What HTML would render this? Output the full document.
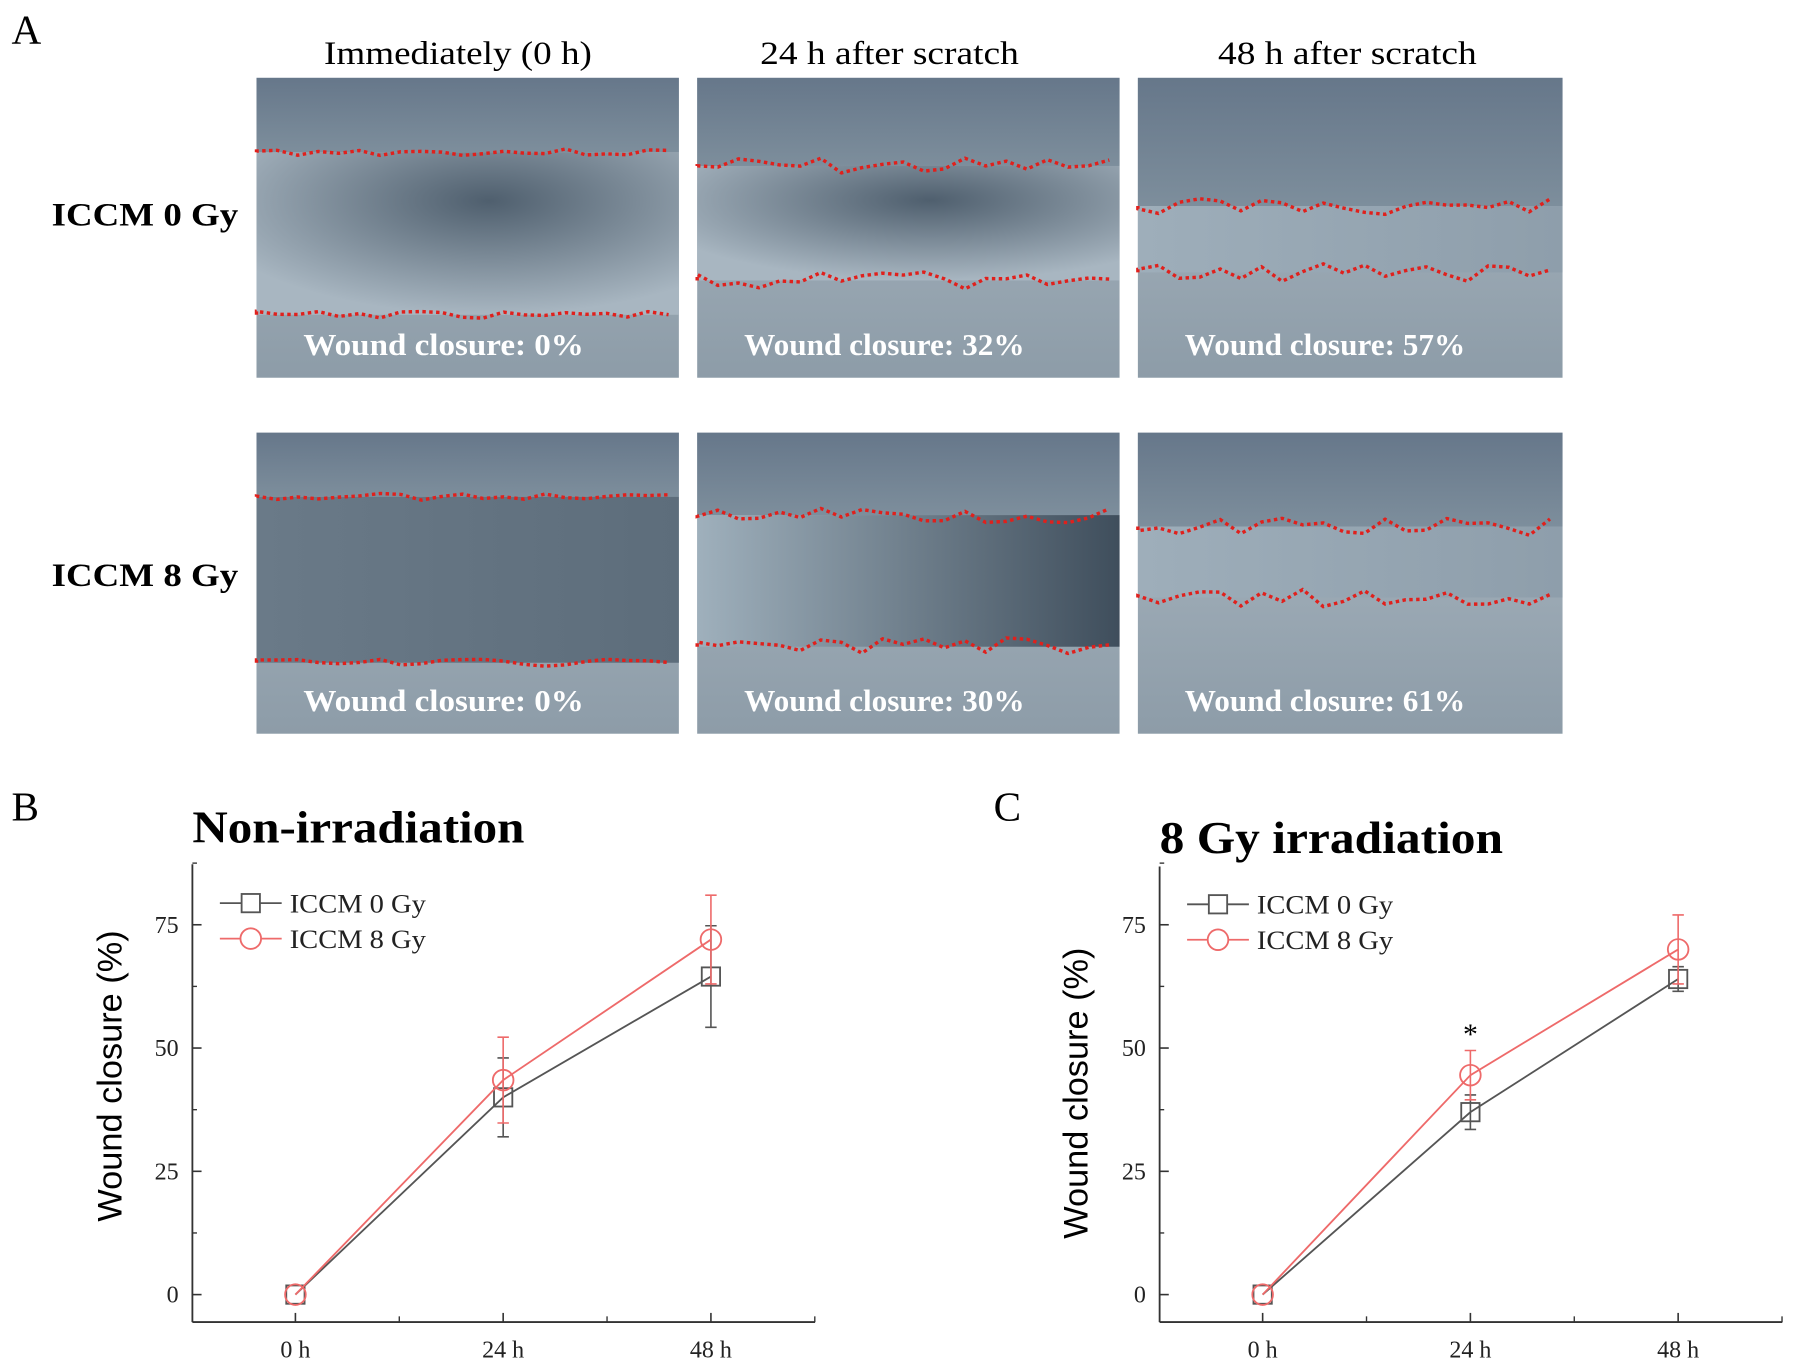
<!DOCTYPE html>
<html><head><meta charset="utf-8">
<style>
html,body{margin:0;padding:0;background:#fff;}
svg{display:block;font-family:"Liberation Serif",serif;}
</style></head>
<body>
<svg id="fig" width="1795" height="1369" viewBox="0 0 1568 1196" xmlns="http://www.w3.org/2000/svg">
<defs>
<linearGradient id="cellTop" x1="0" y1="0" x2="0" y2="1">
<stop offset="0" stop-color="#66778a"/><stop offset="1" stop-color="#7d8e9c"/>
</linearGradient>
<linearGradient id="cellBot" x1="0" y1="0" x2="0" y2="1">
<stop offset="0" stop-color="#aab7c1"/><stop offset="1" stop-color="#8d9ca8"/>
</linearGradient>
<radialGradient id="woundDark" cx="0.55" cy="0.3" r="0.7">
<stop offset="0" stop-color="#4f5f6e"/><stop offset="1" stop-color="#a8b6c1"/>
</radialGradient>
<linearGradient id="woundFlat" x1="0" y1="0" x2="1" y2="0">
<stop offset="0" stop-color="#6a7a88"/><stop offset="1" stop-color="#5d6d7b"/>
</linearGradient>
<linearGradient id="woundMid" x1="0" y1="0" x2="1" y2="0">
<stop offset="0" stop-color="#9fb0bc"/><stop offset="1" stop-color="#3f4e5c"/>
</linearGradient>
<linearGradient id="woundLight" x1="0" y1="0" x2="1" y2="0">
<stop offset="0" stop-color="#9eaeba"/><stop offset="1" stop-color="#8e9eab"/>
</linearGradient>
</defs>

<text x="10" y="38" font-size="36">A</text>
<text x="283" y="56" font-size="29" textLength="234" lengthAdjust="spacingAndGlyphs">Immediately (0 h)</text>
<text x="664" y="56" font-size="29" textLength="226" lengthAdjust="spacingAndGlyphs">24 h after scratch</text>
<text x="1064" y="56" font-size="29" textLength="226" lengthAdjust="spacingAndGlyphs">48 h after scratch</text>
<text x="45" y="197" font-size="29" font-weight="bold" textLength="163" lengthAdjust="spacingAndGlyphs">ICCM 0 Gy</text>
<text x="45" y="512" font-size="29" font-weight="bold" textLength="163" lengthAdjust="spacingAndGlyphs">ICCM 8 Gy</text>
<g id="photos"></g>

<g id="chartB"></g>
<g id="chartC"></g>
</svg>

<script>
// ---- chart data ----
const categories = ["0 h", "24 h", "48 h"];
const yTicks = [0, 25, 50, 75];
const seriesNames = ["ICCM 0 Gy", "ICCM 8 Gy"];
const nonIrr0Gy = [0, 40, 64.5];
const nonIrr0GyErr = [0, 8, 10.3];
const nonIrr8Gy = [0, 43.5, 72];
const nonIrr8GyErr = [0, 8.7, 9];
const irr0Gy = [0, 37, 64];
const irr0GyErr = [0, 3.5, 2.5];
const irr8Gy = [0, 44.5, 70];
const irr8GyErr = [0, 5, 7];
const wound0Gy = ["0%", "32%", "57%"];
const wound8Gy = ["0%", "30%", "61%"];

const NS = "http://www.w3.org/2000/svg";
function mk(tag, attrs, parent) {
  const e = document.createElementNS(NS, tag);
  for (const k in attrs) e.setAttribute(k, attrs[k]);
  parent.appendChild(e);
  return e;
}

// ---- photo panels ----
const photos = document.getElementById('photos');
const cols = [[224, 369], [609, 369], [994, 371]];
const rows = [[68, 262], [378, 263]];
const woundFills = [["woundDark", "woundDark", "woundLight"], ["woundFlat", "woundMid", "woundLight"]];
const edges = [[[133, 275], [145, 245], [180, 238]], [[434, 579], [450, 565], [460, 522]]];
const seeds = [3, 7, 11, 5, 9, 13];
function jag(x0, w, y, amp, seed) {
  let d = "M" + x0 + " " + y;
  let s = seed;
  for (let x = x0; x <= x0 + w; x += 18) {
    s = (s * 9301 + 49297) % 233280;
    d += " L" + x + " " + (y + (s / 233280 - 0.5) * amp);
  }
  return d;
}
rows.forEach((r, ri) => {
  cols.forEach((c, ci) => {
    const g = mk('g', {}, photos);
    
    
    const [x, w] = c, [y, h] = r;
    const [e1, e2] = edges[ri][ci];
    mk('rect', { x: x, y: y, width: w, height: h, fill: 'url(#cellBot)' }, g);
    mk('rect', { x: x, y: y, width: w, height: e1 - y, fill: 'url(#cellTop)' }, g);
    mk('rect', { x: x, y: e1, width: w, height: e2 - e1, fill: 'url(#' + woundFills[ri][ci] + ')' }, g);
    const amp = ci === 0 ? 6 : 16;
    const sd = seeds[ri * 3 + ci];
    mk('path', { d: jag(x, w, e1, amp, sd), fill: 'none', stroke: '#e0201c', 'stroke-width': 3, 'stroke-dasharray': '3 3' }, g);
    mk('path', { d: jag(x, w, e2, amp, sd + 17), fill: 'none', stroke: '#e0201c', 'stroke-width': 3, 'stroke-dasharray': '3 3' }, g);
    const t = mk('text', { x: x + 41, y: y + h - 20, 'font-size': 27, 'font-weight': 'bold', fill: '#ffffff', textLength: 245, lengthAdjust: 'spacingAndGlyphs' }, g);
    t.textContent = 'Wound closure: ' + (ri === 0 ? wound0Gy[ci] : wound8Gy[ci]);
    
    
  });
});

// ---- line charts ----
function drawChart(gid, opt) {
  const g = document.getElementById(gid);
  const x0 = opt.axisX, xEnd = opt.axisEnd, yBase = 1155, yTop = opt.yTop;
  const xPos = opt.catX;
  const yScale = v => 1131 - v * (107.7 / 25);
  const xScale = i => xPos[0] + i * (xPos[1] - xPos[0]);
  const lbl = mk('text', { x: opt.letterX, y: 717, 'font-size': 36 }, g);
  lbl.textContent = opt.letter;
  
  
  const title = mk('text', { x: opt.titleX, y: opt.titleY, 'font-size': 40, 'font-weight': 'bold', textLength: opt.titleLen, lengthAdjust: 'spacingAndGlyphs' }, g);
  title.textContent = opt.title;
  
  
  // axes
  const ya = mk('line', { x1: x0, y1: yTop, x2: x0, y2: yBase, stroke: '#333', 'stroke-width': 1.6 }, g);
  
  
  const xa = mk('line', { x1: x0, y1: yBase, x2: xEnd, y2: yBase, stroke: '#333', 'stroke-width': 1.6 }, g);
  
  
  yTicks.forEach(v => {
    const y = yScale(v);
    mk('line', { x1: x0, y1: y, x2: x0 + 8, y2: y, stroke: '#333', 'stroke-width': 1.4 }, g);
    mk('line', { x1: x0, y1: yScale(v + 12.5), x2: x0 + 4, y2: yScale(v + 12.5), stroke: '#333', 'stroke-width': 1.2 }, g);
    const t = mk('text', { x: x0 - 12, y: y + 7, 'font-size': 21, 'text-anchor': 'end', fill: '#222' }, g);
    t.textContent = v;
    
    
  });
  categories.forEach((c, i) => {
    const x = xScale(i);
    mk('line', { x1: x, y1: yBase, x2: x, y2: yBase - 8, stroke: '#333', 'stroke-width': 1.4 }, g);
    mk('line', { x1: x + (xPos[1] - xPos[0]) / 2, y1: yBase, x2: x + (xPos[1] - xPos[0]) / 2, y2: yBase - 5, stroke: '#333', 'stroke-width': 1.2 }, g);
    const t = mk('text', { x: x, y: 1186, 'font-size': 21, 'text-anchor': 'middle', fill: '#222' }, g);
    t.textContent = c;
    
    
  });
  const yt = mk('text', { x: 0, y: 0, 'font-size': 30, 'text-anchor': 'middle', 'font-family': '"Liberation Sans",sans-serif', transform: 'translate(' + opt.ytX + ',' + opt.ytY + ') rotate(-90)' }, g);
  yt.textContent = 'Wound closure (%)';
  
  
  // series
  const series = [
    { vals: opt.s0, err: opt.e0, color: '#555', name: seriesNames[0], marker: 'square' },
    { vals: opt.s1, err: opt.e1, color: '#ee6a6a', name: seriesNames[1], marker: 'circle' }
  ];
  function marker(m, x, y, color, parent) {
    if (m === 'square') return mk('rect', { x: x - 8, y: y - 8, width: 16, height: 16, fill: 'none', stroke: color, 'stroke-width': 1.6 }, parent);
    return mk('circle', { cx: x, cy: y, r: 9, fill: 'none', stroke: color, 'stroke-width': 1.6 }, parent);
  }
  series.forEach((s, si) => {
    const sg = mk('g', {}, g);
    
    
    const pts = s.vals.map((v, i) => xScale(i) + ',' + yScale(v)).join(' ');
    mk('polyline', { points: pts, fill: 'none', stroke: s.color, 'stroke-width': 1.6 }, sg);
    s.vals.forEach((v, i) => {
      const x = xScale(i);
      if (s.err[i] > 0) {
        const eb = mk('path', { d: 'M' + x + ' ' + yScale(v + s.err[i]) + ' V' + yScale(v - s.err[i]) + ' M' + (x - 5) + ' ' + yScale(v + s.err[i]) + ' h10 M' + (x - 5) + ' ' + yScale(v - s.err[i]) + ' h10', stroke: s.color, 'stroke-width': 1.4, fill: 'none' }, sg);
        
        
      }
      const m = marker(s.marker, x, yScale(v), s.color, sg);
      
      
    });
    // legend
    const lg = mk('g', {}, g);
    
    
    const ly = opt.legY + si * 31;
    mk('line', { x1: opt.legX, y1: ly, x2: opt.legX + 54, y2: ly, stroke: s.color, 'stroke-width': 1.6 }, lg);
    const lm = marker(s.marker, opt.legX + 27, ly, s.color, lg);
    lm.setAttribute('fill', '#fff');
    const lt = mk('text', { x: opt.legX + 61, y: ly + 8, 'font-size': 23, fill: '#222', textLength: 119, lengthAdjust: 'spacingAndGlyphs' }, lg);
    lt.textContent = s.name;
  });
  if (opt.star) {
    const st = mk('text', { x: xScale(1), y: 912, 'font-size': 26, 'text-anchor': 'middle' }, g);
    st.textContent = '*';
    
    
  }
}

drawChart('chartB', { axisX: 168, axisEnd: 712, yTop: 755, catX: [258, 439.5], letter: 'B', letterX: 10, title: 'Non-irradiation', titleX: 168, titleY: 736, titleLen: 290, ytX: 106, ytY: 940, s0: nonIrr0Gy, e0: nonIrr0GyErr, s1: nonIrr8Gy, e1: nonIrr8GyErr, legX: 192, legY: 789, star: false });
drawChart('chartC', { axisX: 1013, axisEnd: 1557, yTop: 757, catX: [1103, 1284.5], letter: 'C', letterX: 868, title: '8 Gy irradiation', titleX: 1013, titleY: 745, titleLen: 300, ytX: 950, ytY: 955, s0: irr0Gy, e0: irr0GyErr, s1: irr8Gy, e1: irr8GyErr, legX: 1037, legY: 790, star: true });
</script>
</body></html>
